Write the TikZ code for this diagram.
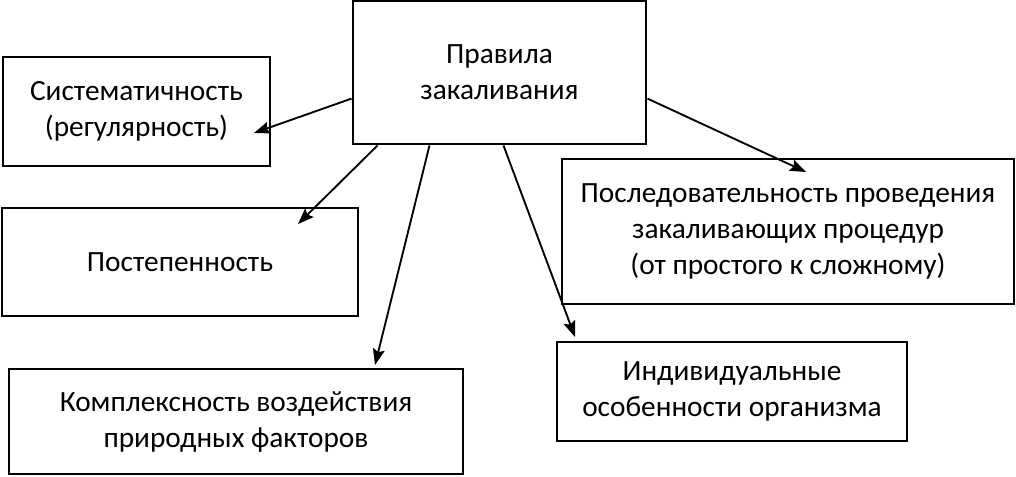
\documentclass[tikz,border=0pt]{standalone}
\usepackage{fontspec}
\setmainfont{Carlito}
\usepackage{tikz}
\usetikzlibrary{arrows.meta}

\tikzset{
  rulebox/.style={draw, rectangle, line width=2.2pt, align=center, inner sep=0pt,
    font=\fontsize{22}{27}\selectfont},
  ruleline/.style={line width=1.4pt, -{Stealth[length=12pt,width=9pt,inset=2pt]}}
}

\begin{document}
\begin{tikzpicture}[x=0.75pt,y=-0.75pt]
	\useasboundingbox (0,0) rectangle (1016,477);
	
	% boxes
	\node[rulebox, minimum width=219.75pt, minimum height=107.25pt] (rule) at (499.5,72.5) {Правила\\закаливания};
	\node[rulebox, minimum width=200.25pt, minimum height=81.75pt] (sys) at (136.5,111.5) {Систематичность\\(регулярность)};
	\node[rulebox, minimum width=267pt, minimum height=81pt] (post) at (180,262) {Постепенность};
	\node[rulebox, minimum width=340.5pt, minimum height=78.75pt] (kompl) at (236,421.5) {Комплексность воздействия\\природных факторов};
	\node[rulebox, minimum width=339pt, minimum height=108.75pt] (posl) at (788,231.5) {Последовательность проведения\\закаливающих процедур\\(от простого к сложному)};
	\node[rulebox, minimum width=262.5pt, minimum height=74.25pt] (indiv) at (732,391.5) {Индивидуальные\\особенности организма};
	
	% arrow tips
	\coordinate (sys tip) at (254,133);
	\coordinate (post tip) at (298,224);
	\coordinate (kompl tip) at (375,365);
	\coordinate (indiv tip) at (575,337);
	\coordinate (posl tip) at (806,172);
	
	\draw[ruleline] (rule.190) -- (sys tip);
	\draw[ruleline] ([xshift=-91.5pt]rule.south) -- (post tip);
	\draw[ruleline] ([xshift=-52.5pt]rule.south) -- (kompl tip);
	\draw[ruleline] ([xshift=3pt]rule.south) -- (indiv tip);
	\draw[ruleline] (rule.350) -- (posl tip);
\end{tikzpicture}
\end{document}
